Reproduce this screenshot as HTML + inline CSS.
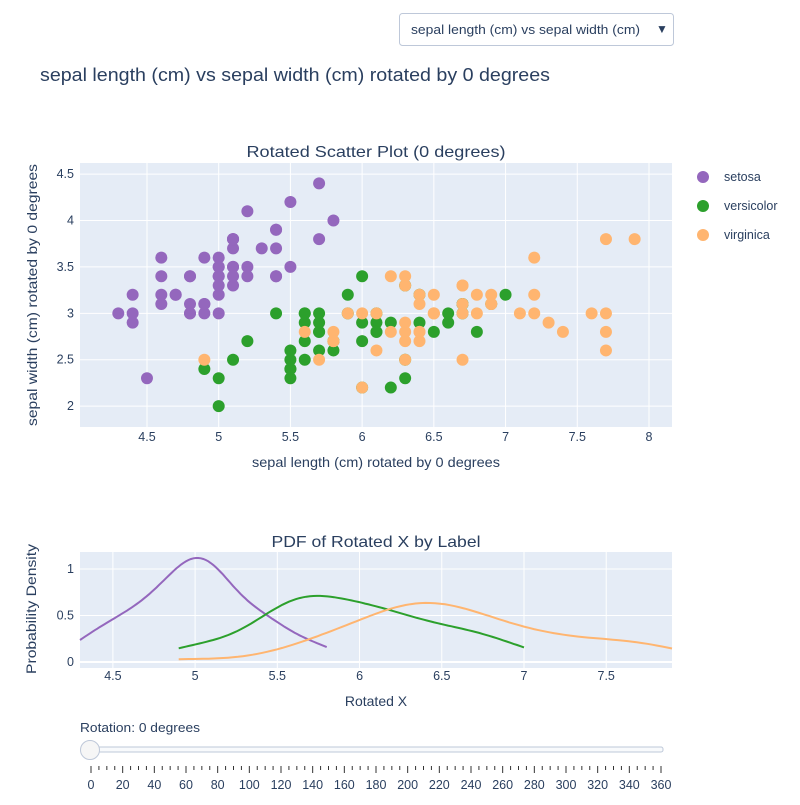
<!DOCTYPE html>
<html><head><meta charset="utf-8"><style>
body{margin:0;background:#fff;font-family:"Liberation Sans",sans-serif;}
svg text{font-family:"Liberation Sans",sans-serif;fill:#2a3f5f;}
</style></head><body>
<svg id="c" width="800" height="800" xmlns="http://www.w3.org/2000/svg">
<rect width="800" height="800" fill="#fff"/>
<g>
<rect x="399.5" y="13.5" width="274" height="32" rx="3" fill="#fff" stroke="#bec8d9"/>
<text x="411" y="34" font-size="13" textLength="229" lengthAdjust="spacingAndGlyphs">sepal length (cm) vs sepal width (cm)</text>
<text x="656" y="33" font-size="12">▼</text>
</g>
<text x="40" y="81" font-size="18" textLength="510" lengthAdjust="spacingAndGlyphs">sepal length (cm) vs sepal width (cm) rotated by 0 degrees</text>
<text x="376" y="157" font-size="16" text-anchor="middle" textLength="259" lengthAdjust="spacingAndGlyphs">Rotated Scatter Plot (0 degrees)</text>
<rect x="80" y="163" width="592" height="264" fill="#e5ecf6"/>
<g id="sgrid"></g><g id="spts"></g>
<text x="376" y="467" font-size="14" text-anchor="middle" textLength="248" lengthAdjust="spacingAndGlyphs">sepal length (cm) rotated by 0 degrees</text>
<text transform="translate(37,295) rotate(-90)" font-size="14" text-anchor="middle" textLength="262" lengthAdjust="spacingAndGlyphs">sepal width (cm) rotated by 0 degrees</text>
<g id="legend"></g>
<text x="376" y="547" font-size="16" text-anchor="middle" textLength="209" lengthAdjust="spacingAndGlyphs">PDF of Rotated X by Label</text>
<rect x="80" y="552" width="592" height="116" fill="#e5ecf6"/>
<g id="pgrid"></g><g id="plines"></g>
<text x="376" y="706" font-size="14" text-anchor="middle">Rotated X</text>
<text transform="translate(36,609) rotate(-90)" font-size="14" text-anchor="middle" textLength="130" lengthAdjust="spacingAndGlyphs">Probability Density</text>
<text x="80" y="732" font-size="12.5" textLength="120" lengthAdjust="spacingAndGlyphs">Rotation: 0 degrees</text>
<rect x="90" y="747" width="573" height="5" rx="2" fill="#f8fafc" stroke="#bec8d9"/>
<circle cx="90" cy="750" r="9.5" fill="#f6f6f6" stroke="#bec8d9"/>
<g id="sticks"></g>
</svg>
<script>
const labels=["setosa","versicolor","virginica"];
const colors=["#9467bd","#2ca02c","#ffb570"];
const setosaX=[5.1,4.9,4.7,4.6,5.0,5.4,4.6,5.0,4.4,4.9,5.4,4.8,4.8,4.3,5.8,5.7,5.4,5.1,5.7,5.1,5.4,5.1,4.6,5.1,4.8,5.0,5.0,5.2,5.2,4.7,4.8,5.4,5.2,5.5,4.9,5.0,5.5,4.9,4.4,5.1,5.0,4.5,4.4,5.0,5.1,4.8,5.1,4.6,5.3,5.0];
const setosaY=[3.5,3.0,3.2,3.1,3.6,3.9,3.4,3.4,2.9,3.1,3.7,3.4,3.0,3.0,4.0,4.4,3.9,3.5,3.8,3.8,3.4,3.7,3.6,3.3,3.4,3.0,3.4,3.5,3.4,3.2,3.1,3.4,4.1,4.2,3.1,3.2,3.5,3.6,3.0,3.4,3.5,2.3,3.2,3.5,3.8,3.0,3.8,3.2,3.7,3.3];
const versicolorX=[7.0,6.4,6.9,5.5,6.5,5.7,6.3,4.9,6.6,5.2,5.0,5.9,6.0,6.1,5.6,6.7,5.6,5.8,6.2,5.6,5.9,6.1,6.3,6.1,6.4,6.6,6.8,6.7,6.0,5.7,5.5,5.5,5.8,6.0,5.4,6.0,6.7,6.3,5.6,5.5,5.5,6.1,5.8,5.0,5.6,5.7,5.7,6.2,5.1,5.7];
const versicolorY=[3.2,3.2,3.1,2.3,2.8,2.8,3.3,2.4,2.9,2.7,2.0,3.0,2.2,2.9,2.9,3.1,3.0,2.7,2.2,2.5,3.2,2.8,2.5,2.8,2.9,3.0,2.8,3.0,2.9,2.6,2.4,2.4,2.7,2.7,3.0,3.4,3.1,2.3,3.0,2.5,2.6,3.0,2.6,2.3,2.7,3.0,2.9,2.9,2.5,2.8];
const virginicaX=[6.3,5.8,7.1,6.3,6.5,7.6,4.9,7.3,6.7,7.2,6.5,6.4,6.8,5.7,5.8,6.4,6.5,7.7,7.7,6.0,6.9,5.6,7.7,6.3,6.7,7.2,6.2,6.1,6.4,7.2,7.4,7.9,6.4,6.3,6.1,7.7,6.3,6.4,6.0,6.9,6.7,6.9,5.8,6.8,6.7,6.7,6.3,6.5,6.2,5.9];
const virginicaY=[3.3,2.7,3.0,2.9,3.0,3.0,2.5,2.9,2.5,3.6,3.2,2.7,3.0,2.5,2.8,3.2,3.0,3.8,2.6,2.2,3.2,2.8,2.8,2.7,3.3,3.2,2.8,3.0,2.8,3.0,2.8,3.8,2.8,2.8,2.6,3.0,3.4,3.1,3.0,3.1,3.1,3.1,2.7,3.2,3.3,3.0,2.5,3.0,3.4,3.0];
const scatterXTicks=[4.5,5,5.5,6,6.5,7,7.5,8];
const scatterYTicks=[2,2.5,3,3.5,4,4.5];
const pdfXTicks=[4.5,5,5.5,6,6.5,7,7.5];
const pdfYTicks=[0,0.5,1];
const sliderTicks=[0,20,40,60,80,100,120,140,160,180,200,220,240,260,280,300,320,340,360];

const NS="http://www.w3.org/2000/svg";
function mk(t,a,p){const e=document.createElementNS(NS,t);for(const k in a)e.setAttribute(k,a[k]);p.appendChild(e);return e;}
const groupsX=[setosaX,versicolorX,virginicaX],groupsY=[setosaY,versicolorY,virginicaY];
const sx=v=>80+(v-4.033)*143.43, sy=v=>427-(v-1.775)*92.8;
const sg=document.getElementById('sgrid');
scatterXTicks.forEach(t=>{const l=mk('line',{x1:sx(t),x2:sx(t),y1:163,y2:427,stroke:'#fff'},sg);
const tx=mk('text',{x:sx(t),y:441,'font-size':12.5,'text-anchor':'middle'},sg);tx.textContent=t;});
scatterYTicks.forEach(t=>{const l=mk('line',{x1:80,x2:672,y1:sy(t),y2:sy(t),stroke:'#fff'},sg);
const tx=mk('text',{x:74,y:sy(t)+4,'font-size':12.5,'text-anchor':'end'},sg);tx.textContent=t;});
const sp=document.getElementById('spts');
groupsX.forEach((xs,g)=>xs.forEach((x,i)=>{const c=mk('circle',{cx:sx(x),cy:sy(groupsY[g][i]),r:6,fill:colors[g]},sp);}));
const lg=document.getElementById('legend');
labels.forEach((n,g)=>{const y=177+29*g;const c=mk('circle',{cx:703,cy:y,r:6,fill:colors[g]},lg);
const t=mk('text',{x:724,y:y+4,'font-size':12.5},lg);t.textContent=n;});
const px=v=>80+(v-4.3)*164.44, py=v=>662-v*93;
const pg=document.getElementById('pgrid');
pdfXTicks.forEach(t=>{const l=mk('line',{x1:px(t),x2:px(t),y1:552,y2:668,stroke:'#fff'},pg);
const tx=mk('text',{x:px(t),y:680,'font-size':12.5,'text-anchor':'middle'},pg);tx.textContent=t;});
pdfYTicks.forEach(t=>{const l=mk('line',{x1:80,x2:672,y1:py(t),y2:py(t),stroke:'#fff','stroke-width':t===0?2:1},pg);
const tx=mk('text',{x:74,y:py(t)+4,'font-size':12.5,'text-anchor':'end'},pg);tx.textContent=t;});
function kde(xs){const n=xs.length,m=xs.reduce((a,b)=>a+b)/n;const sd=Math.sqrt(xs.reduce((a,b)=>a+(b-m)*(b-m),0)/(n-1));const h=sd*Math.pow(n,-0.2);
const lo=Math.min(...xs),hi=Math.max(...xs),pts=[];for(let k=0;k<=100;k++){const x=lo+(hi-lo)*k/100;let s=0;xs.forEach(v=>{const z=(x-v)/h;s+=Math.exp(-z*z/2);});pts.push([x,s/(n*h*Math.sqrt(2*Math.PI))]);}return pts;}
const pl=document.getElementById('plines');
groupsX.forEach((xs,g)=>{const d=kde(xs).map((p,i)=>(i?'L':'M')+px(p[0]).toFixed(1)+','+py(p[1]).toFixed(1)).join('');
const p=mk('path',{d:d,fill:'none',stroke:colors[g],'stroke-width':2},pl);});
const st=document.getElementById('sticks');
const tk=v=>91+v*570/360;
for(let v=0;v<=360;v+=5){const major=v%20===0;const l=mk('line',{x1:tk(v),x2:tk(v),y1:766,y2:major?773:770,stroke:'#333','stroke-width':1},st);}
sliderTicks.forEach(v=>{const t=mk('text',{x:tk(v),y:789,'font-size':12.5,'text-anchor':'middle'},st);t.textContent=v;});
</script>
</body></html>
